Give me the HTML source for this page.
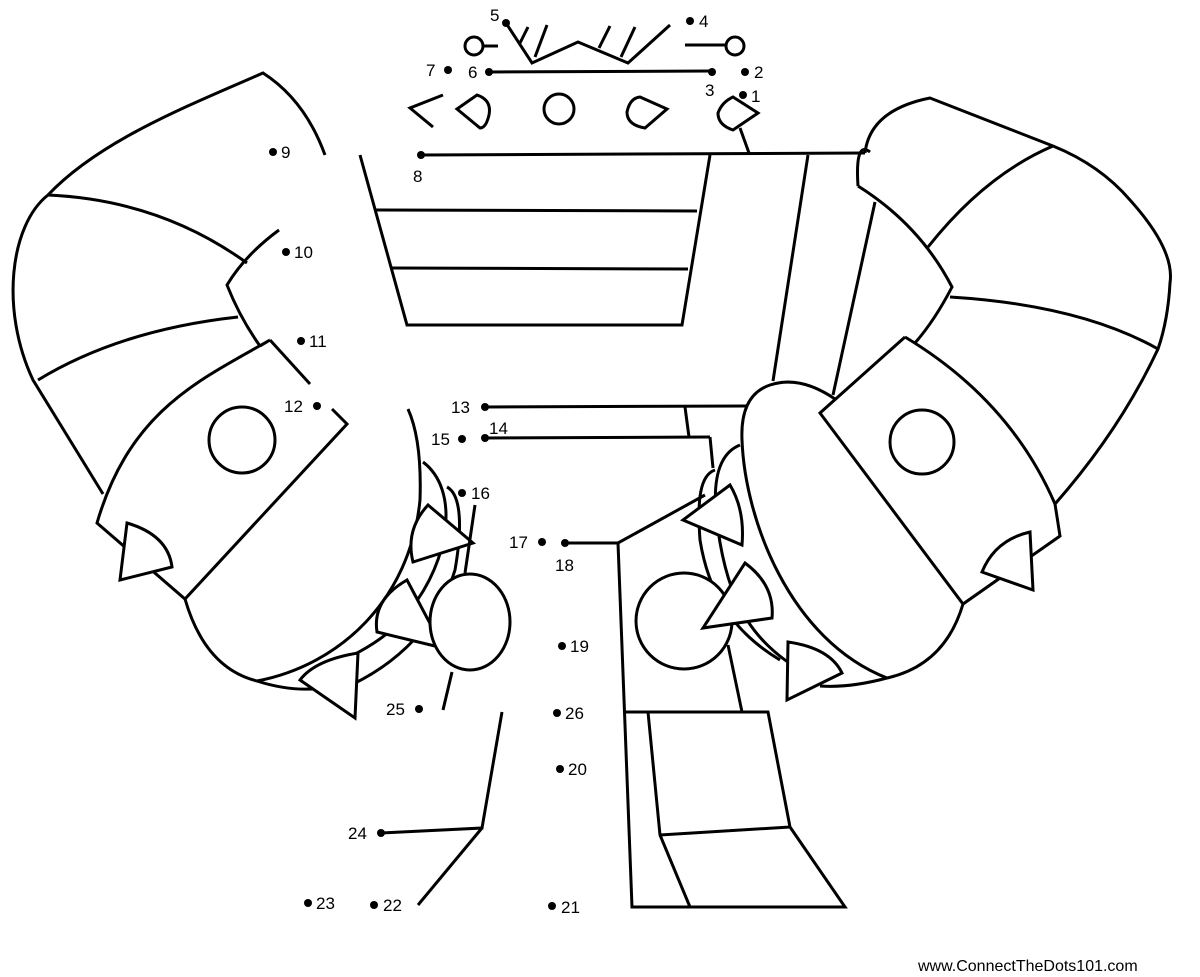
<!DOCTYPE html>
<html><head><meta charset="utf-8"><style>
html,body{margin:0;padding:0;background:#fff;}
svg{display:block;}
text{font-family:"Liberation Sans",sans-serif;font-size:17px;fill:#000;}
</style></head><body>
<svg width="1200" height="977" viewBox="0 0 1200 977" xmlns="http://www.w3.org/2000/svg">
<g fill="none" stroke="#000" stroke-width="3" stroke-linejoin="miter" stroke-linecap="butt">
<!-- top crown -->
<polyline points="506,23 532,63 578,42 628,63 670,25"/>
<line x1="520" y1="43" x2="528" y2="27"/><line x1="535" y1="57" x2="547" y2="25"/>
<line x1="599" y1="48" x2="610" y2="26"/><line x1="621" y1="57" x2="635" y2="27"/>
<circle cx="474" cy="46" r="9"/><line x1="483" y1="46" x2="498" y2="46"/>
<circle cx="735" cy="46" r="9"/><line x1="685" y1="45" x2="726" y2="45"/>
<line x1="489" y1="72" x2="712" y2="71"/>
<polyline points="443,95 410,108 433,127"/>
<path d="M457,109 L477,95 Q492,100 489,115 Q486,128 480,128 Z"/>
<circle cx="559" cy="109" r="15"/>
<path d="M640,97 L667,109 L645,128 Q627,125 627,112 Q630,98 640,97Z"/>
<path d="M733,97 L758,113 L733,130 Q718,125 718,113 Q722,102 733,97Z"/>
<line x1="740" y1="128" x2="749" y2="153"/>
<!-- main box -->
<line x1="421" y1="155" x2="865" y2="153"/>
<polyline points="360,155 407,325 682,325 710,155"/>
<line x1="375" y1="210" x2="697" y2="211"/>
<line x1="392" y1="268" x2="688" y2="269"/>
<line x1="808" y1="155" x2="773" y2="381"/>
<line x1="875" y1="202" x2="833" y2="395"/>
<!-- left wing -->
<path d="M325,155 Q305,100 263,73 C190,105 100,140 48,195 C10,225 0,310 33,380 L103,494"/>
<path d="M48,195 Q160,200 247,263"/>
<path d="M38,380 Q120,330 238,317"/>
<path d="M279,230 Q245,255 227,285 Q240,318 260,346"/>
<line x1="270" y1="340" x2="310" y2="384"/>
<path d="M260,346 L270,340 M270,340 C200,380 130,410 97,523 L185,599 L347,424 L332,409"/>
<path d="M185,599 Q205,668 257,681 Q300,695 340,685"/>
<path d="M257,681 C340,665 410,600 420,500 Q422,440 408,409"/>
<circle cx="242" cy="440" r="33"/>
<path d="M423,462 C460,490 450,560 410,610 C390,635 370,650 300,680"/>
<path d="M447,487 C462,495 462,530 455,570 C440,620 400,665 340,690"/>
<path fill="#fff" d="M127,523 Q168,535 172,567 L120,580 Z"/>
<path fill="#fff" d="M428,505 L473,543 L413,562 Q405,530 428,505Z"/>
<path fill="#fff" d="M407,580 L443,648 L377,632 Q372,600 407,580Z"/>
<path fill="#fff" d="M358,653 L355,718 L300,680 Q315,660 358,653Z"/>
<ellipse cx="470" cy="622" rx="40" ry="48" fill="#fff"/>
<line x1="475" y1="505" x2="465" y2="573"/>
<line x1="452" y1="672" x2="443" y2="710"/>
<!-- right wing -->
<path d="M865,153 Q870,110 930,98 L1053,146 Q1100,165 1130,200 Q1175,250 1170,283 Q1168,320 1158,349 Q1120,430 1055,504"/>
<path d="M858,186 Q920,225 952,287 Q935,320 915,343"/>
<path d="M858,186 Q855,140 870,152"/>
<path d="M928,247 Q985,175 1053,146"/>
<path d="M950,297 Q1080,305 1158,349"/>
<path d="M905,337 L820,413 L963,604 L1060,536 L1055,504 M905,337 Q1010,400 1055,504"/>
<path d="M963,604 Q945,665 887,678 Q850,688 820,686"/>
<path d="M835,399 Q800,375 770,385 Q740,395 742,440 C745,520 790,640 887,678"/>
<circle cx="922" cy="442" r="32"/>
<path fill="#fff" d="M1030,532 L1033,590 L982,572 Q995,540 1030,532Z"/>
<path d="M740,445 C715,455 712,490 718,530 C728,600 750,640 800,670"/>
<path d="M715,470 C700,475 697,500 700,540 C708,590 730,630 780,660"/>
<!-- center -->
<line x1="485" y1="407" x2="747" y2="406"/>
<line x1="485" y1="438" x2="710" y2="437"/>
<line x1="685" y1="407" x2="689" y2="437"/>
<line x1="710" y1="437" x2="713" y2="468"/>
<polyline points="565,543 618,543 705,495"/>
<polyline points="618,543 632,907 845,907 790,827 768,712 625,712"/>
<polyline points="648,712 660,835 690,907"/>
<line x1="660" y1="835" x2="790" y2="827"/>
<line x1="728" y1="645" x2="742" y2="712"/>
<path fill="#fff" d="M730,485 Q745,510 742,545 L683,520Z"/>
<circle cx="684" cy="621" r="48" fill="#fff"/>
<path fill="#fff" d="M745,563 Q775,585 772,618 L703,628Z"/>
<path fill="#fff" d="M788,642 Q830,648 842,673 L787,700Z"/>
<polyline points="381,833 482,828 502,712"/>
<line x1="482" y1="828" x2="418" y2="905"/>
</g>
<g fill="#000">
<circle cx="506" cy="23" r="4"/><circle cx="690" cy="21" r="4"/><circle cx="489" cy="72" r="4"/><circle cx="712" cy="72" r="4"/>
<circle cx="448" cy="70" r="4"/><circle cx="745" cy="72" r="4"/><circle cx="743" cy="95" r="4"/><circle cx="421" cy="155" r="4"/>
<circle cx="273" cy="152" r="4"/><circle cx="286" cy="252" r="4"/><circle cx="301" cy="341" r="4"/><circle cx="317" cy="406" r="4"/>
<circle cx="485" cy="407" r="4"/><circle cx="485" cy="438" r="4"/><circle cx="462" cy="439" r="4"/><circle cx="462" cy="493" r="4"/>
<circle cx="542" cy="542" r="4"/><circle cx="565" cy="543" r="4"/><circle cx="562" cy="646" r="4"/><circle cx="557" cy="713" r="4"/>
<circle cx="419" cy="709" r="4"/><circle cx="560" cy="769" r="4"/><circle cx="381" cy="833" r="4"/><circle cx="308" cy="903" r="4"/>
<circle cx="374" cy="905" r="4"/><circle cx="552" cy="906" r="4"/>
</g>
<text x="490" y="21">5</text><text x="699" y="27">4</text><text x="468" y="78">6</text><text x="426" y="76">7</text>
<text x="754" y="78">2</text><text x="705" y="96">3</text><text x="751" y="102">1</text><text x="413" y="182">8</text>
<text x="281" y="158">9</text><text x="294" y="258">10</text><text x="309" y="347">11</text><text x="284" y="412">12</text>
<text x="451" y="413">13</text><text x="489" y="434">14</text><text x="431" y="445">15</text><text x="471" y="499">16</text>
<text x="509" y="548">17</text><text x="555" y="571">18</text><text x="570" y="652">19</text><text x="568" y="775">20</text>
<text x="561" y="913">21</text><text x="383" y="911">22</text><text x="316" y="909">23</text><text x="348" y="839">24</text>
<text x="386" y="715">25</text><text x="565" y="719">26</text>
<text x="918" y="971" style="font-size:16px">www.ConnectTheDots101.com</text>
</svg>
</body></html>
